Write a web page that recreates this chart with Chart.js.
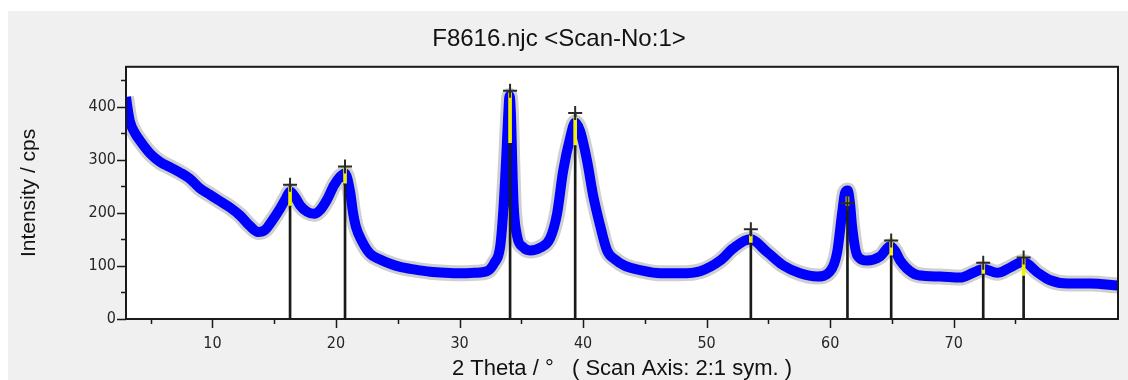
<!DOCTYPE html>
<html>
<head>
<meta charset="utf-8">
<script src="https://cdn.jsdelivr.net/npm/chart.js@4.4.1/dist/chart.umd.min.js"></script>
<style>
	html, body { margin: 0; padding: 0; background: #ffffff; }
	#fondo { position: absolute; left: 8px; top: 11px; right: 0; bottom: 0; background: #f0f0f0; }
	#caja { position: absolute; left: 0; top: 0; width: 1128px; height: 380px; }
</style>
</head>
<body>
<div id="fondo"></div>
<div id="caja"><canvas id="canvaXrd" width="1128" height="380"></canvas></div>
<script>
//main Datos
//* Eje x: 2 Theta
const twoTheta = [3.00, 3.16, 3.32, 3.73, 4.13, 4.94, 5.75, 6.56, 7.37, 8.18, 8.99, 9.80, 10.61, 11.42, 12.23, 13.04, 13.69, 14.26, 14.82, 15.47, 15.96, 16.28, 16.68, 17.09, 17.66, 18.22, 18.71, 19.28, 19.84, 20.33, 20.73, 21.14, 21.38, 21.62, 22.11, 22.76, 23.57, 24.38, 25.19, 26.40, 27.62, 28.83, 30.04, 31.26, 32.23, 32.80, 33.28, 33.53, 33.77, 33.93, 34.05, 34.17, 34.26, 34.38, 34.66, 35.15, 35.71, 36.52, 37.33, 37.90, 38.38, 38.95, 39.36, 39.76, 40.33, 40.81, 41.38, 41.94, 42.59, 43.40, 44.62, 46.24, 47.86, 49.48, 51.10, 52.15, 53.53, 54.90, 56.20, 57.57, 58.95, 60.00, 60.57, 60.97, 61.21, 61.42, 61.62, 61.78, 62.19, 63.00, 64.05, 64.86, 65.27, 65.67, 66.73, 67.70, 68.91, 70.53, 71.58, 72.39, 73.53, 74.58, 75.63, 76.77, 77.82, 79.19, 81.06, 83.32];
//* Eje y: intensidad (cps)
const intensity = [418, 392, 372, 350, 336, 312, 296, 286, 276, 264, 246, 234, 222, 210, 195, 175, 164, 168, 185, 208, 228, 240, 230, 214, 202, 198, 205, 225, 252, 268, 274, 240, 200, 173, 146, 123, 112, 104, 98, 93, 89, 87, 86, 87, 90, 105, 135, 200, 300, 380, 420, 380, 300, 214, 156, 135, 129, 134, 152, 199, 278, 341, 370, 354, 297, 233, 176, 129, 112, 100, 92, 86, 86, 90, 110, 133, 150, 126, 101, 86, 80, 90, 126, 200, 238, 242, 215, 173, 120, 110, 118, 137, 128, 110, 86, 81, 80, 78, 87, 94, 87, 97, 108, 88, 73, 67, 67, 63];
//* Picos marcados
const peakPos = [16.28, 20.73, 34.09, 39.36, 53.58, 61.40, 64.94, 72.39, 75.66];
const peakHeight = [253, 287, 430, 388, 169, 218, 148, 106, 116];
//* Marcas amarillas (inicio y fin)
const markLo = [214, 256, 332, 328, 144, 214, 120, 86, 82];
const markHi = [248, 286, 426, 380, 157, 230, 152, 107, 120];
//* Ticks
const xMajor = [10, 20, 30, 40, 50, 60, 70];
const xMinor = [5, 15, 25, 35, 45, 55, 65, 75];
const yMajor = [0, 100, 200, 300, 400];
const yMinor = [50, 150, 250, 350, 450];
//* Textos
const titleText = "F8616.njc <Scan-No:1>";
const xTitle = "2 Theta / °   ( Scan Axis: 2:1 sym. )";
const yTitle = "Intensity / cps";

const tickFont = "'Liberation Sans Narrow', 'DejaVu Sans Condensed', 'Liberation Sans', sans-serif";
const mainFont = "'Liberation Sans', Arial, sans-serif";

//* Puntos de la curva
const scan = twoTheta.map((x, i) => ({ x: x, y: intensity[i] }));

//* Fondo blanco del área y marco negro
const marco = {
	id: "marco",
	beforeDatasetsDraw(chart) {
		const { ctx, chartArea: a } = chart;
		ctx.save();
		ctx.fillStyle = "#ffffff";
		ctx.fillRect(a.left, a.top, a.right - a.left, a.bottom - a.top);
		ctx.restore();
	},
	afterDraw(chart) {
		const { ctx, chartArea: a } = chart;
		const sx = chart.scales.x;
		const sy = chart.scales.y;
		ctx.save();
		ctx.strokeStyle = "#1a1a1a";
		ctx.lineWidth = 2;
		ctx.strokeRect(a.left, a.top, a.right - a.left, a.bottom - a.top);
		//* ticks mayores y menores
		ctx.lineWidth = 1.5;
		ctx.beginPath();
		xMajor.forEach((v) => { const p = Math.round(sx.getPixelForValue(v)) + 0.5; ctx.moveTo(p, a.bottom); ctx.lineTo(p, a.bottom + 9); });
		xMinor.forEach((v) => { const p = Math.round(sx.getPixelForValue(v)) + 0.5; ctx.moveTo(p, a.bottom); ctx.lineTo(p, a.bottom + 5); });
		yMajor.forEach((v) => { const p = Math.round(sy.getPixelForValue(v)) + 0.5; ctx.moveTo(a.left, p); ctx.lineTo(a.left - 9, p); });
		yMinor.forEach((v) => { const p = Math.round(sy.getPixelForValue(v)) + 0.5; ctx.moveTo(a.left, p); ctx.lineTo(a.left - 5, p); });
		ctx.stroke();
		ctx.restore();
	},
};

const options = {
	type: "line",
	data: {
		datasets: [
			//* Barras de picos (negro)
			{
				type: "bar",
				data: peakPos.map((x, i) => ({ x: x, y: peakHeight[i] })),
				backgroundColor: "#1a1a1a",
				barThickness: 2,
				grouped: false,
				order: 2,
			},
			//* Marcas amarillas
			{
				type: "bar",
				data: peakPos.map((x, i) => ({ x: x, y: [markLo[i], markHi[i]] })),
				backgroundColor: "#f5f000",
				barThickness: 3,
				grouped: false,
				order: 1,
			},
			//* Cruces
			{
				type: "scatter",
				data: peakPos.map((x, i) => ({ x: x, y: peakHeight[i] })),
				pointStyle: "cross",
				pointRadius: 7,
				borderColor: "#2a2a2a",
				borderWidth: 2,
				order: 0,
			},
			//* Curva azul
			{
				data: scan,
				borderColor: "#0000ff",
				borderWidth: 10,
				pointRadius: 0,
				cubicInterpolationMode: "monotone",
				borderJoinStyle: "round",
				clip: 0,
				order: 3,
			},
			//* Ruido gris
			{
				data: scan,
				borderColor: "#cfcfcf",
				borderWidth: 16,
				pointRadius: 0,
				cubicInterpolationMode: "monotone",
				borderJoinStyle: "round",
				clip: 0,
				order: 4,
			},
		],
	},
	options: {
		responsive: false,
		animation: false,
		layout: { padding: { left: 0, right: 10, top: 0, bottom: 0 } },
		plugins: {
			legend: { display: false },
			tooltip: { enabled: false },
			title: {
				display: true,
				text: titleText,
				color: "#111111",
				font: { size: 24, family: mainFont, weight: "normal", lineHeight: 1.2 },
				padding: { top: 25, bottom: 13 },
			},
		},
		scales: {
			x: {
				type: "linear",
				min: 3.0,
				max: 83.3,
				offset: false,
				afterBuildTicks: (scale) => { scale.ticks = xMajor.map((v) => ({ value: v })); },
				afterFit: (scale) => { scale.height = 61; },
				grid: { display: false, drawTicks: false },
				border: { display: false },
				ticks: {
					color: "#262626",
					padding: 15,
					maxRotation: 0,
					font: { size: 16, family: tickFont },
				},
				title: {
					display: true,
					text: xTitle,
					color: "#111111",
					font: { size: 22, family: mainFont, lineHeight: 1 },
					padding: 0,
				},
			},
			y: {
				min: 0,
				max: 475,
				afterBuildTicks: (scale) => { scale.ticks = yMajor.map((v) => ({ value: v })); },
				afterFit: (scale) => { scale.width = 126; },
				grid: { display: false, drawTicks: false },
				border: { display: false },
				ticks: {
					color: "#262626",
					padding: 10,
					font: { size: 16, family: tickFont },
				},
				title: {
					display: true,
					text: yTitle,
					color: "#111111",
					font: { size: 21, family: mainFont, lineHeight: 1 },
					padding: { top: 19, bottom: 0 },
				},
			},
		},
	},
	plugins: [marco],
};

//* Dibujamos el gráfico
const ctx = document.getElementById("canvaXrd");
const canvaXrd = new Chart(ctx, options);
</script>
</body>
</html>
